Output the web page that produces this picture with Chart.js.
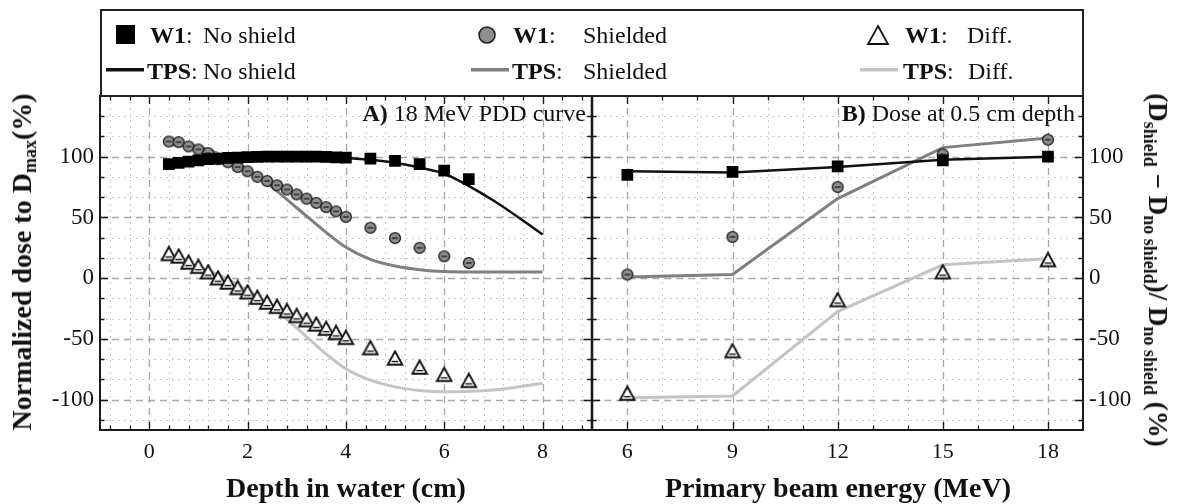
<!DOCTYPE html>
<html>
<head>
<meta charset="utf-8">
<script src="https://cdn.jsdelivr.net/npm/chart.js@4.4.1/dist/chart.umd.min.js"></script>
<style>
  body { margin: 0; background: #fff; width: 1179px; height: 504px; position: relative; overflow: hidden;
         font-family: "Liberation Serif", "Times New Roman", serif; color: #111; }
  canvas { position: absolute; top: 0; }
  #chartA { left: 0; }
  #chartB { left: 584px; }
  #legendBox { position: absolute; left: 100px; top: 9px; width: 984px; height: 88px;
               border: 2px solid #222; box-sizing: border-box; }
  .lg { position: absolute; font-size: 24px; line-height: 24px; white-space: nowrap; }
  .mk { position: absolute; }
  .panelTag { position: absolute; font-size: 24px; line-height: 24px; white-space: nowrap; text-align: right; }
  .axTitle { position: absolute; font-weight: bold; font-size: 28px; line-height: 28px; white-space: nowrap;
             transform: translate(-50%, -50%); }
  .axTitle sub { font-size: 18px; vertical-align: -5px; line-height: 0; }
  .rotL { transform: translate(-50%, -50%) rotate(-90deg); }
  .rotR { transform: translate(-50%, -50%) rotate(90deg); font-size: 27px; }
</style>
</head>
<body>
<canvas id="chartA" width="600" height="504"></canvas>
<canvas id="chartB" width="595" height="504"></canvas>

<!-- legend -->
<div id="legendBox"></div>
<svg class="mk" style="left:116px;top:25px" width="19" height="19"><rect width="19" height="19" fill="#000"/></svg>
<span class="lg" style="left:150px;top:23px"><b>W1</b>:</span>
<span class="lg" style="left:203px;top:23px">No shield</span>
<svg class="mk" style="left:106px;top:68px" width="38" height="4"><rect width="38" height="3.5" fill="#111"/></svg>
<span class="lg" style="left:147px;top:59px"><b>TPS</b>:</span>
<span class="lg" style="left:203px;top:59px">No shield</span>

<svg class="mk" style="left:477px;top:25px" width="20" height="20"><circle cx="10" cy="10" r="8" fill="#8e8e8e" stroke="#222" stroke-width="1.6"/></svg>
<span class="lg" style="left:513px;top:23px"><b>W1</b>:</span>
<span class="lg" style="left:583px;top:23px">Shielded</span>
<svg class="mk" style="left:471px;top:68px" width="38" height="4"><rect width="38" height="3.5" fill="#808080"/></svg>
<span class="lg" style="left:512px;top:59px"><b>TPS</b>:</span>
<span class="lg" style="left:583px;top:59px">Shielded</span>

<svg class="mk" style="left:866px;top:24px" width="24" height="22"><path d="M12 2 L22 20 L2 20 Z" fill="#fff" stroke="#111" stroke-width="1.8"/></svg>
<span class="lg" style="left:905px;top:23px"><b>W1</b>:</span>
<span class="lg" style="left:967px;top:23px">Diff.</span>
<svg class="mk" style="left:860px;top:68px" width="38" height="4"><rect width="38" height="3.5" fill="#c4c4c4"/></svg>
<span class="lg" style="left:903px;top:59px"><b>TPS</b>:</span>
<span class="lg" style="left:968px;top:59px">Diff.</span>

<!-- panel tags -->
<div class="panelTag" style="right:593px;top:101px"><b>A)</b> 18 MeV PDD curve</div>
<div class="panelTag" style="right:104px;top:101px"><b>B)</b> Dose at 0.5 cm depth</div>

<!-- axis titles -->
<div class="axTitle" style="left:346px;top:488px">Depth in water (cm)</div>
<div class="axTitle" style="left:838px;top:488px">Primary beam energy (MeV)</div>
<div class="axTitle rotL" style="left:22px;top:262px">Normalized dose to D<sub>max</sub>(%)</div>
<div class="axTitle rotR" style="left:1158px;top:270px">(D<sub>shield</sub> &minus; D<sub>no shield</sub>)/ D<sub>no shield</sub> (%)</div>

<script>
// ---- panel A: 18 MeV depth dose ----
const depthW1 = [0.4, 0.6, 0.8, 1.0, 1.2, 1.4, 1.6, 1.8, 2.0, 2.2, 2.4, 2.6, 2.8, 3.0, 3.2, 3.4, 3.6, 3.8, 4.0, 4.5, 5.0, 5.5, 6.0, 6.5];
const w1NoShieldA = [94, 95, 96, 97, 98, 98.5, 99, 99.3, 99.6, 99.8, 100, 100, 100, 100, 100, 100, 99.8, 99.5, 99.3, 98.5, 96.5, 94, 88.5, 81.5];
const w1ShieldedA = [112.5, 112, 108.5, 106, 103, 98, 95.5, 91.5, 88, 83.5, 80, 76.5, 73, 69, 65.5, 62, 58.5, 55, 50.5, 41.5, 33, 25, 18, 12.5];
const w1DiffA = [20, 18, 13, 9.5, 5, 0, -3.5, -8, -11.5, -16, -20, -23.5, -27, -31, -34.5, -38, -41.5, -45, -49, -57.5, -66, -73.5, -79.5, -84.5];

const depthTPS = [0.4, 1.0, 1.5, 2.0, 2.5, 3.0, 3.5, 4.0, 4.5, 5.0, 5.5, 6.0, 7.0, 8.0];
const tpsNoShieldA = [94, 97.5, 99, 99.6, 100, 100, 100, 99, 97.5, 95, 91, 86, 64, 36];
const tpsShieldedA = [110, 108, 101, 90, 75, 58, 41, 25.5, 15.5, 10, 7, 5.5, 5, 5];
const tpsDiffA = [17, 9.5, 1, -10, -24, -41, -59, -74.5, -84, -89.5, -92.5, -93.5, -92, -86.5];

// ---- panel B: dose at 0.5 cm vs beam energy ----
const energies = [6, 9, 12, 15, 18];
const w1NoShieldB = [85, 87.5, 92, 97, 100];
const w1ShieldedB = [3, 34, 75, 102, 114];
const w1DiffB = [-95, -60, -18, 5, 15];
const tpsNoShieldB = [88, 87, 91.5, 97.5, 100];
const tpsShieldedB = [1, 3, 65.5, 107.5, 115.5];
const tpsDiffB = [-98.5, -97, -27.5, 11, 16];

// ---- axes ----
const depthTicks = [0, 2, 4, 6, 8];
const energyTicks = [6, 9, 12, 15, 18];
const doseTicks = [-100, -50, 0, 50, 100];
const depthMinorStep = 0.4;
const energyMinorStep = 1;
const doseMinorStep = 50 / 3;

const INK = '#111';
const GRAY = '#808080';
const LIGHT = '#c4c4c4';
const FONT = '"Liberation Serif", "Times New Roman", serif';

function pairs(xs, ys) {
    return xs.map((x, i) => ({ x: x, y: ys[i] }));
}

// gray circle with a bar through it
function circleMarker() {
    const c = document.createElement('canvas');
    c.width = 14; c.height = 14;
    const g = c.getContext('2d');
    g.beginPath();
    g.arc(7, 7, 5.4, 0, Math.PI * 2);
    g.fillStyle = '#8e8e8e';
    g.fill();
    g.lineWidth = 1.4;
    g.strokeStyle = '#1e1e1e';
    g.stroke();
    g.beginPath();
    g.moveTo(4.2, 7);
    g.lineTo(9.8, 7);
    g.stroke();
    return c;
}

// open triangle with an inner bar
function triangleMarker() {
    const c = document.createElement('canvas');
    c.width = 18; c.height = 17;
    const g = c.getContext('2d');
    g.beginPath();
    g.moveTo(9, 1.5);
    g.lineTo(16.3, 14.8);
    g.lineTo(1.7, 14.8);
    g.closePath();
    g.fillStyle = '#fff';
    g.fill();
    g.lineWidth = 1.9;
    g.strokeStyle = INK;
    g.stroke();
    g.beginPath();
    g.moveTo(5.6, 11.6);
    g.lineTo(12.4, 11.6);
    g.lineWidth = 1.4;
    g.stroke();
    return c;
}

const CIRCLE = circleMarker();
const TRIANGLE = triangleMarker();

function stepValues(min, max, step) {
    const out = [];
    for (let k = Math.ceil(min / step - 1e-9); k * step <= max + 1e-9; k++) {
        const v = k * step;
        if (Math.abs(v - min) > 1e-6 && Math.abs(v - max) > 1e-6) out.push(v);
    }
    return out;
}

function isMajor(v, list) {
    return list.some(m => Math.abs(m - v) < 1e-6);
}

// grid behind the data, frame and inward ticks on top
const panelGrid = {
    id: 'panelGrid',
    beforeDatasetsDraw(chart, args, o) {
        const { ctx, chartArea: a } = chart;
        const xs = chart.scales.x, ys = chart.scales.y;
        const xPix = v => Math.round(xs.getPixelForValue(v)) + 0.5;
        const yPix = v => Math.round(ys.getPixelForValue(v)) + 0.5;
        ctx.save();
        ctx.lineWidth = 1;
        ctx.strokeStyle = '#bdbdbd';
        ctx.setLineDash([1.5, 4.5]);
        ctx.beginPath();
        stepValues(xs.min, xs.max, o.xStep).filter(v => !isMajor(v, o.xMajor)).forEach(v => {
            ctx.moveTo(xPix(v), a.top); ctx.lineTo(xPix(v), a.bottom);
        });
        stepValues(ys.min, ys.max, o.yStep).filter(v => !isMajor(v, o.yMajor)).forEach(v => {
            ctx.moveTo(a.left, yPix(v)); ctx.lineTo(a.right, yPix(v));
        });
        ctx.stroke();

        ctx.strokeStyle = '#a8a8a8';
        ctx.lineWidth = 1.3;
        ctx.setLineDash([7, 5]);
        ctx.beginPath();
        o.xMajor.forEach(v => { ctx.moveTo(xPix(v), a.top); ctx.lineTo(xPix(v), a.bottom); });
        o.yMajor.forEach(v => { ctx.moveTo(a.left, yPix(v)); ctx.lineTo(a.right, yPix(v)); });
        ctx.stroke();
        ctx.restore();
    },
    afterDatasetsDraw(chart, args, o) {
        const { ctx, chartArea: a } = chart;
        const xs = chart.scales.x, ys = chart.scales.y;
        ctx.save();
        ctx.strokeStyle = '#1a1a1a';
        ctx.lineWidth = 1.3;
        ctx.beginPath();
        stepValues(xs.min, xs.max, o.xStep).forEach(v => {
            const p = Math.round(xs.getPixelForValue(v)) + 0.5;
            const len = isMajor(v, o.xMajor) ? 8 : 4.5;
            ctx.moveTo(p, a.bottom); ctx.lineTo(p, a.bottom - len);
            ctx.moveTo(p, a.top); ctx.lineTo(p, a.top + len);
        });
        stepValues(ys.min, ys.max, o.yStep).forEach(v => {
            const p = Math.round(ys.getPixelForValue(v)) + 0.5;
            const len = isMajor(v, o.yMajor) ? 8 : 4.5;
            ctx.moveTo(a.left, p); ctx.lineTo(a.left + len, p);
            ctx.moveTo(a.right, p); ctx.lineTo(a.right - len, p);
        });
        ctx.stroke();
        ctx.lineWidth = 2;
        ctx.strokeRect(a.left, a.top, a.right - a.left, a.bottom - a.top);
        ctx.restore();
    }
};

function lineSet(xs, ys, color, width, smooth) {
    return {
        data: pairs(xs, ys), borderColor: color, borderWidth: width, pointRadius: 0,
        cubicInterpolationMode: smooth ? 'monotone' : 'default', tension: 0, fill: false, order: 2
    };
}

function markerSet(xs, ys, style) {
    const set = { data: pairs(xs, ys), showLine: false, pointRadius: 6, order: 1 };
    if (style === 'rect') {
        set.pointStyle = 'rect';
        set.pointRadius = 8.3;
        set.pointBackgroundColor = '#000';
        set.pointBorderWidth = 0;
    } else {
        set.pointStyle = style;
    }
    return set;
}

function tickFont(size) {
    return { family: FONT, size: size };
}

function makePanel(id, cfg) {
    return new Chart(document.getElementById(id), {
        type: 'line',
        data: { datasets: cfg.datasets },
        options: {
            responsive: false,
            animation: false,
            layout: { padding: cfg.padding },
            plugins: {
                legend: { display: false },
                tooltip: { enabled: false },
                panelGrid: { xStep: cfg.xStep, xMajor: cfg.xTicks, yStep: doseMinorStep, yMajor: doseTicks }
            },
            scales: {
                x: {
                    type: 'linear', min: cfg.xMin, max: cfg.xMax,
                    grid: { display: false, drawTicks: false },
                    border: { display: false },
                    afterBuildTicks: s => { s.ticks = cfg.xTicks.map(v => ({ value: v })); },
                    afterFit: s => { s.height = 74; },
                    ticks: { font: tickFont(22), color: INK, padding: 9, maxRotation: 0, autoSkip: false }
                },
                y: {
                    type: 'linear', min: -125, max: 150, position: cfg.yPos,
                    grid: { display: false, drawTicks: false },
                    border: { display: false },
                    afterBuildTicks: s => { s.ticks = doseTicks.map(v => ({ value: v })); },
                    afterFit: s => { s.width = cfg.yWidth; },
                    ticks: { font: tickFont(23), color: INK, padding: 6, autoSkip: false }
                }
            }
        },
        plugins: [panelGrid]
    });
}

makePanel('chartA', {
    xMin: -1, xMax: 9, xStep: depthMinorStep, xTicks: depthTicks,
    yPos: 'left', yWidth: 100,
    padding: { top: 96, right: 8, left: 0, bottom: 0 },
    datasets: [
        lineSet(depthTPS, tpsNoShieldA, INK, 2.5, true),
        lineSet(depthTPS, tpsShieldedA, GRAY, 3, true),
        lineSet(depthTPS, tpsDiffA, LIGHT, 3, true),
        markerSet(depthW1, w1NoShieldA, 'rect'),
        markerSet(depthW1, w1ShieldedA, CIRCLE),
        markerSet(depthW1, w1DiffA, TRIANGLE)
    ]
});

makePanel('chartB', {
    xMin: 5, xMax: 19, xStep: energyMinorStep, xTicks: energyTicks,
    yPos: 'right', yWidth: 96,
    padding: { top: 96, right: 0, left: 8, bottom: 0 },
    datasets: [
        lineSet(energies, tpsNoShieldB, INK, 2.5, false),
        lineSet(energies, tpsShieldedB, GRAY, 3, false),
        lineSet(energies, tpsDiffB, LIGHT, 3, false),
        markerSet(energies, w1NoShieldB, 'rect'),
        markerSet(energies, w1ShieldedB, CIRCLE),
        markerSet(energies, w1DiffB, TRIANGLE)
    ]
});
</script>
</body>
</html>
